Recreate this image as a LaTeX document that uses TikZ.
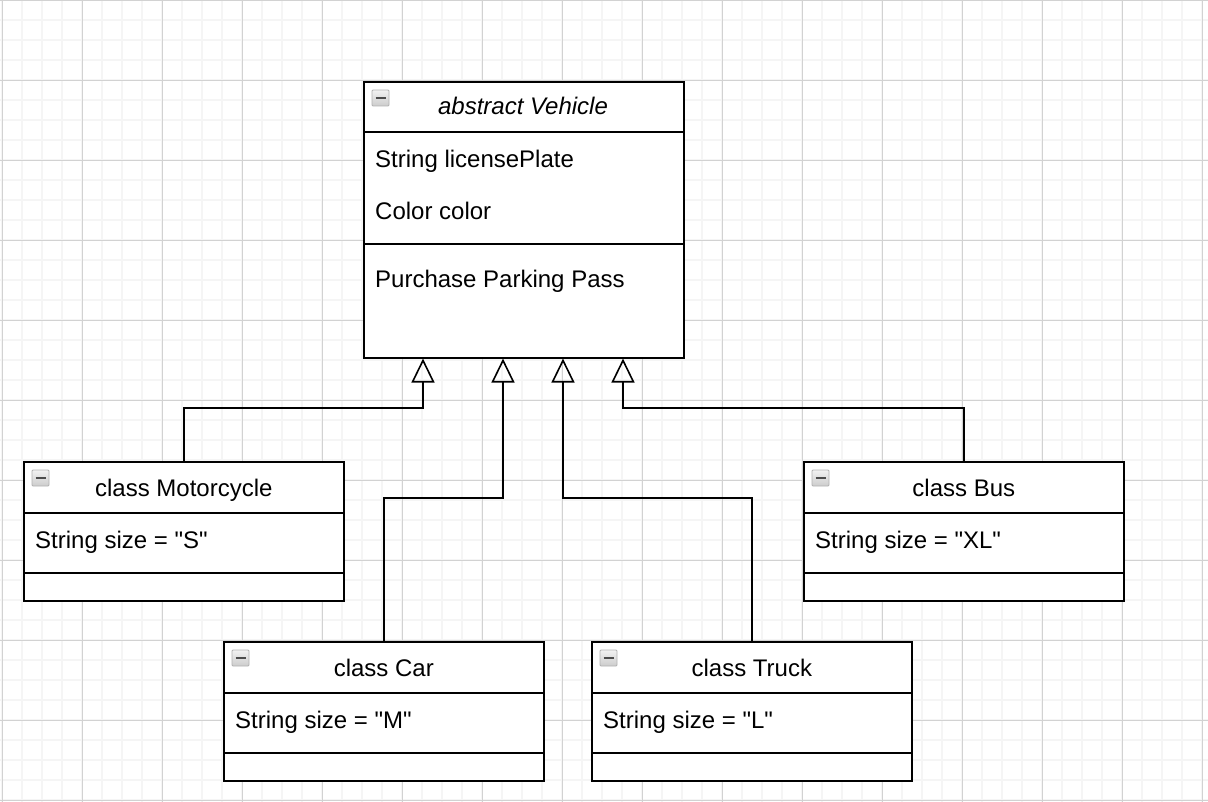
\documentclass[tikz,border=0pt]{standalone}
\usepackage{fontspec}
\setmainfont{Liberation Sans}
\usetikzlibrary{arrows.meta,calc}

\definecolor{minorgrid}{RGB}{245,245,245}
\definecolor{majorgrid}{RGB}{210,210,210}

\tikzset{
  classbox/.style={draw, line width=1.6pt, fill=white, anchor=north west,
    inner sep=0pt, minimum width=320pt, minimum height=139pt},
  sepline/.style={line width=1.6pt},
  inherit/.style={line width=1.6pt, -{Triangle[open, length=24pt, width=23pt, line width=1.6pt]}},
  member/.style={anchor=base west, inner sep=0pt, font=\fontsize{24}{28}\selectfont},
  title/.style={anchor=base, inner sep=0pt, font=\fontsize{24}{28}\selectfont}
}

% small collapse icon in the top left corner of a box
\newcommand{\minusicon}[1]{%
  \draw[gray!60, top color=gray!10, bottom color=gray!40, rounded corners=1pt, line width=0.8pt]
    ($(#1.north west)+(9,9)$) rectangle ++(17,16);
  \draw[black!70, line width=2.5pt] ($(#1.north west)+(12.5,17)$) -- ++(10,0);}

\begin{document}
\begin{tikzpicture}[x=1pt, y=-1pt]
  \useasboundingbox (0,0) rectangle (1208,802);

  % background grid
  \foreach \x in {2,22,...,1208} \draw[minorgrid, line width=1.5pt] (\x,0) -- (\x,802);
  \foreach \y in {0,20,...,802} \draw[minorgrid, line width=1.5pt] (0,\y) -- (1208,\y);
  \foreach \x in {2,82,...,1208} \draw[majorgrid, line width=0.8pt] (\x,0) -- (\x,802);
  \foreach \y in {0,80,...,802} \draw[majorgrid, line width=0.8pt] (0,\y) -- (1208,\y);

  % abstract class
  \node[classbox, minimum height=276pt] (veh) at (363,81) {};
  \draw[sepline] ($(veh.north west)+(0,51)$) -- ($(veh.north east)+(0,51)$);
  \draw[sepline] ($(veh.north west)+(0,163)$) -- ($(veh.north east)+(0,163)$);
  \minusicon{veh}
  \node[title] (vehname) at (523,115) {\itshape abstract Vehicle};
  \node[member] (plate) at (375,168) {String licensePlate};
  \node[member] (color) at (375,220) {Color color};
  \node[member] (pass) at (375,288) {Purchase Parking Pass};

  % subclasses
  \node[classbox] (moto) at (23,461) {};
  \node[classbox] (car) at (223,641) {};
  \node[classbox] (truck) at (591,641) {};
  \node[classbox] (bus) at (803,461) {};

  \foreach \c in {moto,car,truck,bus} {
    \draw[sepline] ($(\c.north west)+(0,52)$) -- ($(\c.north east)+(0,52)$);
    \draw[sepline] ($(\c.north west)+(0,112)$) -- ($(\c.north east)+(0,112)$);
    \minusicon{\c}
  }

  \node[title] (motoname) at ($(moto.north)+(0,35)$) {class Motorcycle};
  \node[member] (motosize) at ($(moto.north west)+(12,87)$) {String size = \textquotedbl S\textquotedbl};
  \node[title] (carname) at ($(car.north)+(0,35)$) {class Car};
  \node[member] (carsize) at ($(car.north west)+(12,87)$) {String size = \textquotedbl M\textquotedbl};
  \node[title] (truckname) at ($(truck.north)+(0,35)$) {class Truck};
  \node[member] (trucksize) at ($(truck.north west)+(12,87)$) {String size = \textquotedbl L\textquotedbl};
  \node[title] (busname) at ($(bus.north)+(0,35)$) {class Bus};
  \node[member] (bussize) at ($(bus.north west)+(12,87)$) {String size = \textquotedbl XL\textquotedbl};

  % inheritance arrows
  \coordinate (t1) at ($(veh.south west)+(60,0)$);
  \coordinate (t2) at ($(veh.south west)+(140,0)$);
  \coordinate (t3) at ($(veh.south west)+(200,0)$);
  \coordinate (t4) at ($(veh.south west)+(260,0)$);
  \draw[inherit] (moto.north) -- ++(0,-53) -| (t1);
  \draw[inherit] (car.north) -- ++(0,-143) -| (t2);
  \draw[inherit] (truck.north) -- ++(0,-143) -| (t3);
  \draw[inherit] (bus.north) -- ++(0,-53) -| (t4);
\end{tikzpicture}
\end{document}
